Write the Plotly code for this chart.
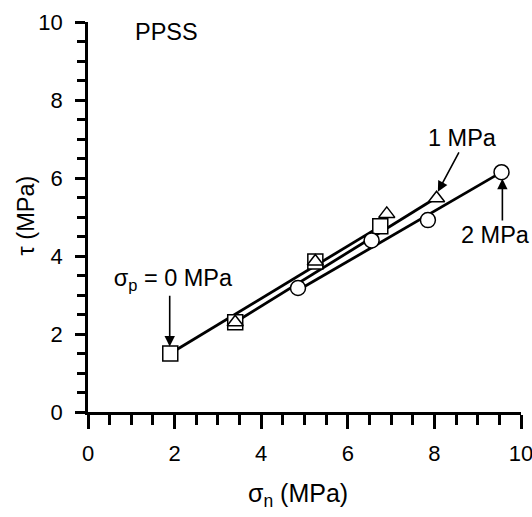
import plotly.graph_objects as go

# ---- data ----
# sigma_p = 0 MPa (squares)
sq_x = [1.9, 3.4, 5.25, 6.75]
sq_y = [1.5, 2.3, 3.86, 4.76]
# sigma_p = 1 MPa (triangles)
tri_x = [3.4, 5.25, 6.9, 8.05]
tri_y = [2.3, 3.86, 5.08, 5.48]
# sigma_p = 2 MPa (circles)
cir_x = [4.85, 6.55, 7.85, 9.55]
cir_y = [3.18, 4.4, 4.92, 6.15]

# fitted lines (end points)
fit0_x = [1.9, 6.75]
fit0_y = [1.5, 4.76]
fit1_x = [3.4, 8.05]
fit1_y = [2.3, 5.5]
fit2_x = [4.85, 9.55]
fit2_y = [3.12, 6.15]

x_ticks = [0, 2, 4, 6, 8, 10]
y_ticks = [0, 2, 4, 6, 8, 10]

FONT = "Liberation Sans, Arial, Helvetica, sans-serif"
FS_TICK = 22
FS_ANN = 23.5
FS_TITLE = 25

fig = go.Figure()

for fx, fy in [(fit0_x, fit0_y), (fit1_x, fit1_y), (fit2_x, fit2_y)]:
    fig.add_trace(go.Scatter(x=fx, y=fy, mode="lines",
                             line=dict(color="black", width=2.8),
                             showlegend=False, hoverinfo="skip"))

fig.add_trace(go.Scatter(x=sq_x, y=sq_y, mode="markers", name="σp = 0 MPa",
                         marker=dict(symbol="square", size=15, color="white",
                                     line=dict(color="black", width=1.5)),
                         showlegend=False))
fig.add_trace(go.Scatter(x=cir_x, y=cir_y, mode="markers", name="σp = 2 MPa",
                         marker=dict(symbol="circle", size=15, color="white",
                                     line=dict(color="black", width=1.5)),
                         showlegend=False))
fig.add_trace(go.Scatter(x=tri_x, y=tri_y, mode="markers", name="σp = 1 MPa",
                         marker=dict(symbol="triangle-up", size=14, color="white",
                                     line=dict(color="black", width=1.5)),
                         showlegend=False))

axis_common = dict(
    range=[0, 10], showgrid=False, zeroline=False,
    showline=True, linecolor="black", linewidth=2.6,
    ticks="outside", tickcolor="black", tickwidth=2.6,
    tickfont=dict(family=FONT, size=FS_TICK, color="black"),
    ticklabeloverflow="allow", automargin=False,
    fixedrange=True,
)

fig.update_xaxes(**axis_common, tickvals=x_ticks, ticklen=14,
                 ticklabelstandoff=6,
                 minor=dict(dtick=0.5, ticklen=10, tickwidth=2.6,
                            tickcolor="black", ticks="outside"))
fig.update_yaxes(**axis_common, tickvals=y_ticks, ticklen=10,
                 ticklabelstandoff=8,
                 minor=dict(dtick=0.5, ticklen=8, tickwidth=2.6,
                            tickcolor="black", ticks="outside"))

ann_font = dict(family=FONT, size=FS_ANN, color="black")
arrow_style = dict(showarrow=True, arrowhead=2, arrowsize=1.3, arrowwidth=1.6,
                   arrowcolor="black", standoff=0, startstandoff=0,
                   axref="x", ayref="y", xref="x", yref="y")

ann = []
# axis titles
ann.append(dict(text="σ<sub>n</sub> (MPa)", xref="paper", yref="paper",
                x=0.484, y=-0.212, xanchor="center", yanchor="middle",
                showarrow=False, font=dict(family=FONT, size=FS_TITLE, color="black")))
ann.append(dict(text="τ (MPa)", xref="paper", yref="paper",
                x=-0.144, y=0.503, xanchor="center", yanchor="middle",
                textangle=-90, showarrow=False,
                font=dict(family=FONT, size=FS_TITLE - 1.5, color="black")))
# label
ann.append(dict(text="PPSS", x=1.03, y=9.74, xanchor="left", yanchor="middle",
                showarrow=False, font=ann_font))
# labels with arrows (text box centre = arrow tail)
ann.append(dict(text="σ<sub>p</sub> = 0 MPa", ax=1.887, ay=3.39, x=1.887, y=1.68,
                width=126, align="right", font=ann_font, **arrow_style))
ann.append(dict(text="1 MPa", ax=8.746, ay=7.03, x=8.08, y=5.65,
                width=78, align="left", font=ann_font, **arrow_style))
ann.append(dict(text="2 MPa", ax=9.57, ay=4.54, x=9.57, y=5.98,
                width=82, align="left", font=ann_font, **arrow_style))

fig.update_layout(
    width=532, height=517,
    margin=dict(l=88, r=11, t=22, b=105, autoexpand=False),
    paper_bgcolor="white", plot_bgcolor="white",
    font=dict(family=FONT, size=FS_TICK, color="black"),
    annotations=ann,
    showlegend=False,
)

fig.write_html("out.html", config={"displayModeBar": False})
